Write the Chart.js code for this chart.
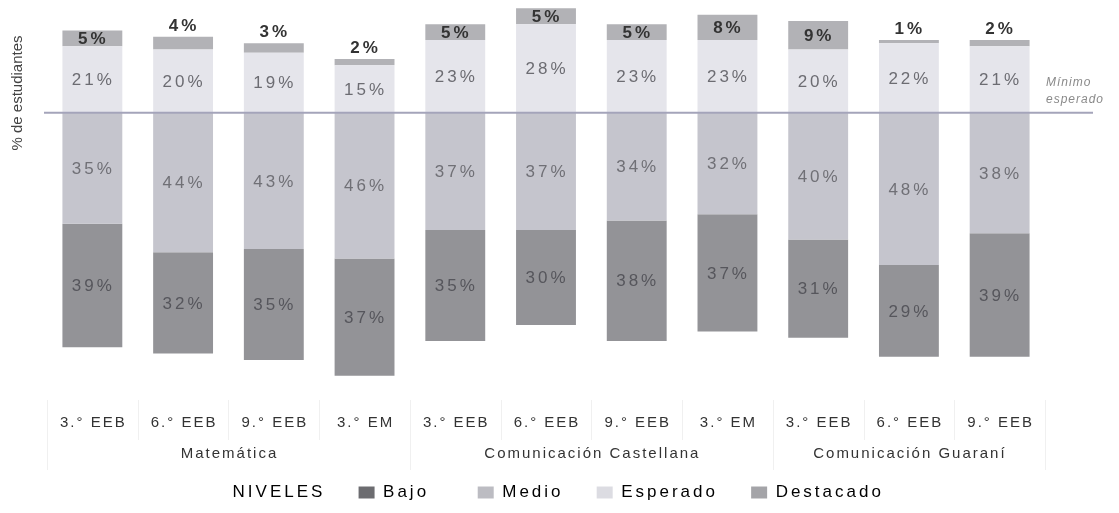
<!DOCTYPE html>
<html>
<head>
<meta charset="utf-8">
<script src="https://cdn.jsdelivr.net/npm/chart.js@4"></script>
<style>
  html, body { margin: 0; padding: 0; background: #fff; }
  #wrap { width: 1119px; height: 513px; }
</style>
</head>
<body>
<div id="wrap"><canvas id="niveles-chart" width="1119" height="513"></canvas></div>
<script>
// data
const grados = ['3.° EEB', '6.° EEB', '9.° EEB', '3.° EM', '3.° EEB', '6.° EEB', '9.° EEB', '3.° EM', '3.° EEB', '6.° EEB', '9.° EEB'];
const areas = ['Matemática', 'Comunicación Castellana', 'Comunicación Guaraní'];
const areaSize = [4, 4, 3];
const bajo = [39, 32, 35, 37, 35, 30, 38, 37, 31, 29, 39];
const medio = [35, 44, 43, 46, 37, 37, 34, 32, 40, 48, 38];
const esperado = [21, 20, 19, 15, 23, 28, 23, 23, 20, 22, 21];
const destacado = [5, 4, 3, 2, 5, 5, 5, 8, 9, 1, 2];

const FONT = "'Liberation Sans', Arial, sans-serif";

window.onload = () => {
    setUpChart();
}

const setUpChart = () => {
    const ctx = document.getElementById('niveles-chart');

    // letter spacing for the legend (the picture is wide-set)
    const spacing = {
        id: 'spacing',
        beforeLayout(chart) {
            chart.ctx.letterSpacing = '3px';
        }
    };

    // values written on the bars
    const valueLabels = {
        id: 'valueLabels',
        afterDatasetsDraw(chart) {
            const c = chart.ctx;
            chart.data.datasets.forEach((ds, i) => {
                const meta = chart.getDatasetMeta(i);
                if (meta.hidden) return;
                meta.data.forEach((bar, j) => {
                    const v = ds.raw[j];
                    const p = bar.getProps(['x', 'y', 'base'], true);
                    c.save();
                    c.letterSpacing = '3px';
                    c.textAlign = 'center';
                    c.textBaseline = 'middle';
                    let y = (p.y + p.base) / 2;
                    if (ds.label === 'Destacado') {
                        c.font = 'bold 17px ' + FONT;
                        c.fillStyle = '#333';
                        if (v < 5) y = Math.min(p.y, p.base) - 12;
                    } else {
                        c.font = '17px ' + FONT;
                        c.fillStyle = ds.textColor;
                    }
                    c.fillText(v + '%', p.x + 1, y + 1);
                    c.restore();
                });
            });
        }
    };

    // minimum line, axis title, category and area labels
    const extras = {
        id: 'extras',
        afterDraw(chart) {
            const c = chart.ctx;
            const x = chart.scales.x;
            const y = chart.scales.y;
            const y0 = y.getPixelForValue(0);
            c.save();

            // "Mínimo esperado" line
            c.strokeStyle = '#a4a4ba';
            c.lineWidth = 2;
            c.beginPath();
            c.moveTo(44, y0);
            c.lineTo(1093, y0);
            c.stroke();

            c.letterSpacing = '1px';
            c.font = 'italic 12px ' + FONT;
            c.fillStyle = '#8a8a8a';
            c.textAlign = 'left';
            c.textBaseline = 'middle';
            c.fillText('Mínimo', 1046, 83);
            c.fillText('esperado', 1046, 100);

            // y axis title
            c.letterSpacing = '0px';
            c.save();
            c.translate(18, 93);
            c.rotate(-Math.PI / 2);
            c.font = '15px ' + FONT;
            c.fillStyle = '#444';
            c.textAlign = 'center';
            c.fillText('% de estudiantes', 0, 0);
            c.restore();

            // faint separators under the bars
            const half = (x.getPixelForValue(1) - x.getPixelForValue(0)) / 2;
            c.strokeStyle = '#f0f0f0';
            c.lineWidth = 1;
            let start = 0;
            const bounds = [0];
            areaSize.forEach(n => { start += n; bounds.push(start); });
            for (let k = 0; k <= grados.length; k++) {
                const px = Math.round(x.getPixelForValue(Math.min(k, grados.length - 1)) + (k === grados.length ? half : -half)) + 0.5;
                const isArea = bounds.includes(k);
                c.beginPath();
                c.moveTo(px, 400);
                c.lineTo(px, isArea ? 470 : 440);
                c.stroke();
            }

            // category labels
            c.letterSpacing = '2px';
            c.font = '15px ' + FONT;
            c.fillStyle = '#333';
            c.textAlign = 'center';
            grados.forEach((g, k) => {
                c.fillText(g, x.getPixelForValue(k) + 1, 423);
            });

            // area labels
            c.font = '500 15px ' + FONT;
            let first = 0;
            areas.forEach((a, k) => {
                const last = first + areaSize[k] - 1;
                const cx = (x.getPixelForValue(first) + x.getPixelForValue(last)) / 2;
                c.fillText(a, cx + 1, 454);
                first = last + 1;
            });
            c.restore();
        }
    };

    new Chart(ctx, {
        type: 'bar',
        data: {
            labels: grados,
            datasets: [
                // below the line: medio stacks first, then bajo under it
                { label: 'Medio', raw: medio, data: medio.map(v => -v), backgroundColor: '#c5c5cd', textColor: '#707076' },
                { label: 'Bajo', raw: bajo, data: bajo.map(v => -v), backgroundColor: '#939397', textColor: '#56565c' },
                { label: 'Esperado', raw: esperado, data: esperado, backgroundColor: '#e5e5eb', textColor: '#6c6c72' },
                { label: 'Destacado', raw: destacado, data: destacado, backgroundColor: '#b2b2b6', textColor: '#333' }
            ]
        },
        options: {
            responsive: false,
            animation: false,
            barPercentage: 0.66,
            categoryPercentage: 1,
            layout: { padding: { top: 2, left: 47, right: 74, bottom: 2 } },
            scales: {
                x: { stacked: true, display: false },
                y: { stacked: true, display: false, min: -114, max: 35 }
            },
            plugins: {
                tooltip: { enabled: false },
                legend: {
                    position: 'bottom',
                    onClick: () => {},
                    labels: {
                        font: { family: FONT, size: 17 },
                        color: '#555',
                        boxWidth: 16,
                        boxHeight: 12,
                        padding: 10,
                        generateLabels: (chart) => {
                            const colors = { Bajo: '#6c6c70', Medio: '#bcbcc2', Esperado: '#dcdce2', Destacado: '#a4a4a8' };
                            // trailing spaces widen the gap between items
                            const gaps = { Bajo: '     ', Medio: '   ', Esperado: '   ', Destacado: '' };
                            const items = [{ text: 'NIVELES   ', fillStyle: 'rgba(0,0,0,0)', strokeStyle: 'rgba(0,0,0,0)', lineWidth: 0, datasetIndex: -1 }];
                            ['Bajo', 'Medio', 'Esperado', 'Destacado'].forEach(name => {
                                const idx = chart.data.datasets.findIndex(d => d.label === name);
                                items.push({ text: name + gaps[name], fillStyle: colors[name], strokeStyle: colors[name], lineWidth: 0, datasetIndex: idx });
                            });
                            return items;
                        }
                    }
                }
            }
        },
        plugins: [spacing, valueLabels, extras]
    });
}
</script>
</body>
</html>
